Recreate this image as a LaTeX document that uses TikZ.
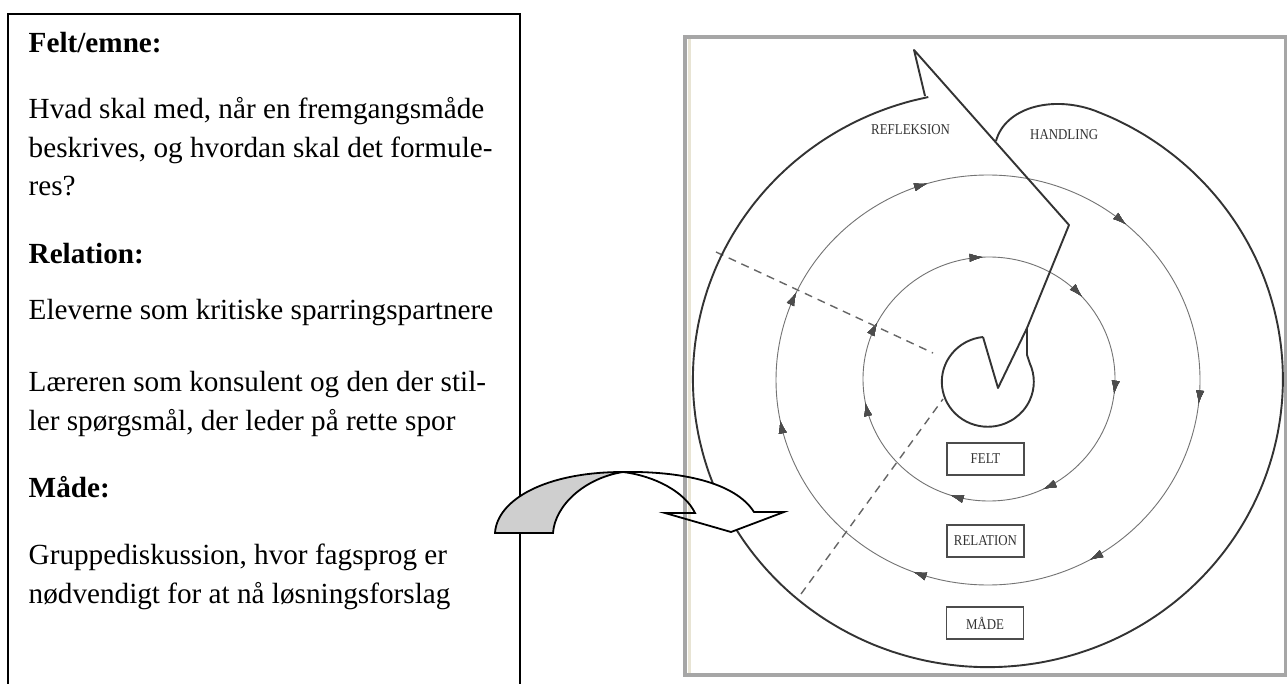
\documentclass[tikz,border=0pt]{standalone}
\usepackage{graphicx}
\usepackage{fontspec}
\setmainfont{Liberation Serif}
\usetikzlibrary{arrows.meta,decorations.markings}
\newcommand{\squeezed}[1]{\scalebox{0.86}[1]{#1}}
\begin{document}
\begin{tikzpicture}[x=1pt,y=-1pt,
  boxline/.style={line width=1.6pt, draw=black},
  spiral/.style={line width=1.9pt, draw=black!80, line join=round},
  ring/.style={line width=0.9pt, draw=black!55},
  cut/.style={line width=1.4pt, draw=black!60, dash pattern=on 8pt off 6pt},
  lbl/.style={font=\fontsize{15}{17}\selectfont, text=black!80, inner sep=0},
  stage/.style={draw=black!70, line width=1.3pt, minimum width=77pt, minimum height=32pt, inner sep=0, font=\fontsize{15}{17}\selectfont, text=black!80},
  body/.style={anchor=base west, inner sep=0, font=\fontsize{29.2}{35}\selectfont},
  bentarrow/.style={line width=1.8pt, draw=black, line join=miter},
  framecol/.style={draw=black!35, line width=4pt}
]
\tikzset{ringtip/.style={decoration={markings,
   mark=at position #1 with {\arrow[black!70]{Latex[length=13pt,width=8pt]}}}, postaction={decorate}}}
\useasboundingbox (0,0) rectangle (1287,684);
\fill[white] (0,0) rectangle (1287,684);

% ---------- left text box ----------
\draw[boxline] (8,684) -- (8,14) -- (520,14) -- (520,684);
\node[body] (h1) at (28.5,52.4) {\textbf{Felt/emne:}};
\node[body] (p1a) at (28.5,118.3) {Hvad skal med, når en fremgangsmåde};
\node[body] (p1b) at (28.5,157.2) {beskrives, og hvordan skal det formule-};
\node[body] (p1c) at (28.5,196) {res?};
\node[body] (h2) at (28.5,263.7) {\textbf{Relation:}};
\node[body] (p2) at (28.5,319.5) {Eleverne som kritiske sparringspartnere};
\node[body] (p3a) at (28.5,391.7) {Læreren som konsulent og den der stil-};
\node[body] (p3b) at (28.5,430.6) {ler spørgsmål, der leder på rette spor};
\node[body] (h3) at (28.5,497.2) {\textbf{Måde:}};
\node[body] (p4a) at (28.5,564.8) {Gruppediskussion, hvor fagsprog er};
\node[body] (p4b) at (28.5,603) {nødvendigt for at nå løsningsforslag};

% ---------- spiral figure ----------
% rings with arrowheads (clockwise)
\draw[ring, ringtip=0.018, ringtip=0.169, ringtip=0.308, ringtip=0.469,
      ringtip=0.569, ringtip=0.703, ringtip=0.864]
   (988,380) ellipse [x radius=212, y radius=205];
\draw[ring, ringtip=0.019, ringtip=0.178, ringtip=0.300, ringtip=0.469,
      ringtip=0.575, ringtip=0.742, ringtip=0.883]
   (989,379) ellipse [x radius=126, y radius=122];

% dashed cut lines
\coordinate (d1a) at (716,252);
\coordinate (d1b) at (933,353);
\coordinate (d2a) at (801,594);
\coordinate (d2b) at (943,399);
\draw[cut] (d1a) -- (d1b);
\draw[cut] (d2a) -- (d2b);

% big spiral arrow
\coordinate (barb) at (925,96);
\coordinate (tip) at (914,50);
\coordinate (k1) at (1069,225);
\coordinate (k2) at (1027,328);
\coordinate (vb) at (998,388);
\coordinate (vl) at (983,337);
\coordinate (bumpend) at (996,141);
\draw[spiral] plot[smooth, domain=-102.5:-430, samples=90]
   ({993+295*(1+0.02*cos(\x+150))*cos(\x)}, {382+288*(1+0.02*cos(\x+150))*sin(\x)})
   .. controls (1051,95) and (1005,108) .. (bumpend);
\draw[spiral] (barb) -- (tip) -- (k1) -- (k2) -- (vb) -- (vl);
\draw[spiral] (vl) arc[start angle=-96, end angle=-384, x radius=46, y radius=45]
   -- (1027,355) -- (k2);

% labels
\node[lbl, anchor=base west] (refl) at (871,135) {\squeezed{REFLEKSION}};
\node[lbl, anchor=base west] (handl) at (1030,140) {\squeezed{HANDLING}};
\node[stage] (felt) at (985.5,459) {\squeezed{FELT}};
\node[stage] (rel) at (985.5,541) {\squeezed{RELATION}};
\node[stage] (made) at (985,623) {\squeezed{MÅDE}};

% ---------- curved connecting arrow (fills) ----------
\coordinate (A) at (495,533);
\coordinate (B) at (553,533);
\coordinate (C) at (623,472);
\coordinate (D) at (754,512);
\coordinate (E) at (695,513);
\coordinate (F) at (665,513);
\coordinate (G) at (731,532);
\coordinate (H) at (784,512);
\fill[black!19] (A) .. controls (497,500) and (545,472) .. (C)
   .. controls (585,478) and (555,505) .. (B) -- cycle;
\fill[white] (C) .. controls (680,471) and (735,482) .. (D) -- (H) -- (G) -- (F) -- (E)
   .. controls (685,492) and (655,476) .. (C) -- cycle;

% ---------- picture frame ----------
\draw[framecol] (685,37) rectangle (1285.5,674.5);
\draw[draw={rgb,255:red,232;green,228;blue,212}, line width=3pt] (689.5,39.5) -- (689.5,672.5);

% ---------- curved connecting arrow (outlines) ----------
\draw[bentarrow] (A) .. controls (497,500) and (545,472) .. (C)
   .. controls (585,478) and (555,505) .. (B) -- cycle;
\draw[bentarrow] (C) .. controls (680,471) and (735,482) .. (D) -- (H) -- (G) -- (F) -- (E)
   .. controls (685,492) and (655,476) .. (C);
\end{tikzpicture}
\end{document}
